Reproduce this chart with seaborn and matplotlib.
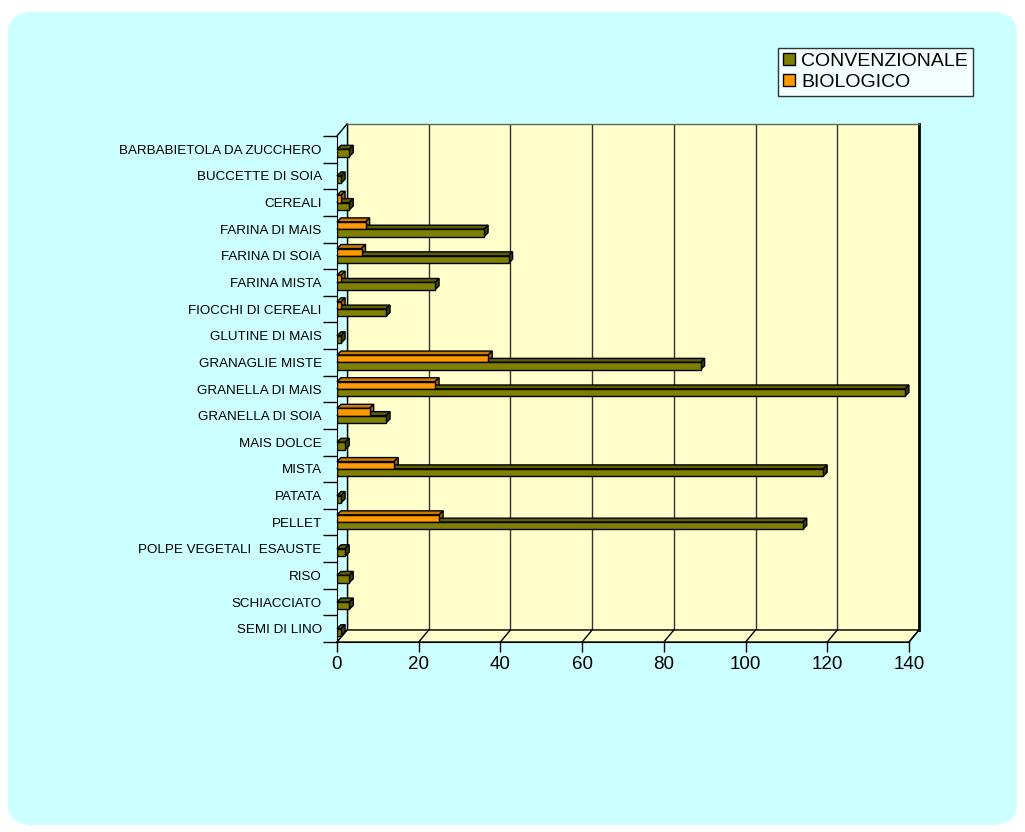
import matplotlib
matplotlib.use("Agg")
import matplotlib.pyplot as plt
from matplotlib.patches import Polygon, Patch, FancyBboxPatch
from matplotlib.transforms import IdentityTransform
import seaborn as sns
import pandas as pd

categories = [
    "BARBABIETOLA DA ZUCCHERO", "BUCCETTE DI SOIA", "CEREALI", "FARINA DI MAIS",
    "FARINA DI SOIA", "FARINA MISTA", "FIOCCHI DI CEREALI", "GLUTINE DI MAIS",
    "GRANAGLIE MISTE", "GRANELLA DI MAIS", "GRANELLA DI SOIA", "MAIS DOLCE",
    "MISTA", "PATATA", "PELLET", "POLPE VEGETALI  ESAUSTE", "RISO",
    "SCHIACCIATO", "SEMI DI LINO",
]
convenzionale = [3, 1, 3, 36, 42, 24, 12, 1, 89, 139, 12, 2, 119, 1, 114, 2, 3, 3, 1]
biologico = [0, 0, 1, 7, 6, 1, 1, 0, 37, 24, 8, 0, 14, 0, 25, 0, 0, 0, 0]
series_names = ["CONVENZIONALE", "BIOLOGICO"]
x_ticks = [0, 20, 40, 60, 80, 100, 120, 140]

plt.rcParams['font.family'] = ['Liberation Sans', 'DejaVu Sans']

W, H = 1025, 832
fig = plt.figure(figsize=(W / 100, H / 100), dpi=100)
fig.patch.set_facecolor("white")
fig.add_artist(FancyBboxPatch((8 / W, 1 - 825 / H), (1017 - 8) / W, (825 - 12) / H,
                              boxstyle="round,pad=0,rounding_size=0.025",
                              transform=fig.transFigure, facecolor="#CCFFFF",
                              edgecolor="none", zorder=0))


def rect(l, t, r, b):
    return [l / W, 1 - b / H, (r - l) / W, (b - t) / H]


ax_back = fig.add_axes(rect(347, 124, 919, 630))
ax_back.set_facecolor("#FFFFCC")
ax_back.set_xlim(0, 140)
ax_back.set_ylim(0, 1)
ax_back.set_xticks(x_ticks)
ax_back.set_yticks([])
ax_back.tick_params(axis="x", length=0, labelbottom=False)
ax_back.grid(axis="x", color="#333333", linewidth=1.0)
for s in ax_back.spines.values():
    s.set_color("black")
    s.set_linewidth(1.0)
ax_back.spines["top"].set_color("#666666")
ax_back.spines["right"].set_linewidth(2.0)

ax = fig.add_axes(rect(337, 136, 909, 642))
ax.set_facecolor("none")

df = pd.DataFrame({
    "categoria": categories * 2,
    "valore": biologico + convenzionale,
    "serie": ["BIOLOGICO"] * len(categories) + ["CONVENZIONALE"] * len(categories),
})
palette = {"CONVENZIONALE": "#808000", "BIOLOGICO": "#FF9900"}
sns.barplot(data=df, y="categoria", x="valore", hue="serie",
            hue_order=["BIOLOGICO", "CONVENZIONALE"], palette=palette,
            order=categories, orient="h", width=0.55, saturation=1,
            edgecolor="black", linewidth=1.0, ax=ax, legend=False, zorder=3)

ax.set_xlim(0, 140)
ax.set_ylim(len(categories) - 0.5, -0.5)
ax.set_xlabel("")
ax.set_ylabel("")
ax.set_xticks(x_ticks)
ax.set_xticklabels([str(t) for t in x_ticks], fontsize=13.5)
ax.tick_params(axis="x", length=7, width=1, color="black", pad=3)
ax.set_yticks(range(len(categories)))
ax.set_yticklabels(categories, fontsize=9.6)
ax.tick_params(axis="y", length=0, pad=11)
ax.set_yticks([i - 0.5 for i in range(len(categories) + 1)], minor=True)
ax.tick_params(axis="y", which="minor", length=10, width=1, color="black")
for side in ["top", "right"]:
    ax.spines[side].set_visible(False)
ax.spines["left"].set_color("black")
ax.spines["bottom"].set_color("black")
ax.grid(False)

# 3D depth faces derived from the drawn bar patches
dx, dy = 4, 4
dark = {"#808000": ("#5c5c00", "#404000"), "#FF9900": ("#cc7a00", "#a86400")}
for p in list(ax.patches):
    w = p.get_width()
    if not w or w <= 0:
        p.set_visible(False)
        continue
    x0, y0, h = p.get_x(), p.get_y(), p.get_height()
    (l, b1), (r, b2) = ax.transData.transform([(x0, y0), (x0 + w, y0 + h)])
    top, bot = max(b1, b2), min(b1, b2)
    fc = matplotlib.colors.to_hex(p.get_facecolor()).lower()
    key = "#808000" if fc == "#808000" else "#FF9900"
    topc, sidec = dark[key]
    ax.add_patch(Polygon([(l, top), (r, top), (r + dx, top + dy), (l + dx, top + dy)],
                         closed=True, transform=IdentityTransform(), facecolor=topc,
                         edgecolor="black", linewidth=1.0, zorder=2, clip_on=False))
    ax.add_patch(Polygon([(r, bot), (r, top), (r + dx, top + dy), (r + dx, bot + dy)],
                         closed=True, transform=IdentityTransform(), facecolor=sidec,
                         edgecolor="black", linewidth=1.0, zorder=2, clip_on=False))

# floor and left wall edges
fl = ax.transAxes.transform((0, 0))
fr = ax.transAxes.transform((1, 0))
bl = ax_back.transAxes.transform((0, 0))
br = ax_back.transAxes.transform((1, 0))
ftl = ax.transAxes.transform((0, 1))
btl = ax_back.transAxes.transform((0, 1))
fig.add_artist(Polygon([fl, fr, br, bl], closed=True, transform=IdentityTransform(),
                       facecolor="#FFFFCC", edgecolor="black", linewidth=1.0, zorder=1))
for t in x_ticks:
    fx = ax.transData.transform((t, 0))[0]
    bx = ax_back.transData.transform((t, 0))[0]
    fig.add_artist(plt.Line2D([fx, bx], [fl[1], bl[1]], transform=IdentityTransform(),
                              color="black", linewidth=1.0, zorder=1.1))
fig.add_artist(plt.Line2D([ftl[0], btl[0]], [ftl[1], btl[1]], transform=IdentityTransform(),
                          color="black", linewidth=1.0, zorder=1.1))

handles = [Patch(facecolor=palette[s], edgecolor="black", linewidth=1.0) for s in series_names]
leg = fig.legend(handles, series_names, loc="upper left",
                 bbox_to_anchor=(778 / W, 1 - 48 / H), fontsize=14,
                 frameon=True, fancybox=False, handlelength=0.6, handleheight=0.6,
                 handletextpad=0.35, borderpad=0.25, labelspacing=0.2, borderaxespad=0)
leg.get_frame().set_edgecolor("black")
leg.get_frame().set_linewidth(1.0)
leg.get_frame().set_facecolor("white")

fig.savefig("out.png", dpi=100)
